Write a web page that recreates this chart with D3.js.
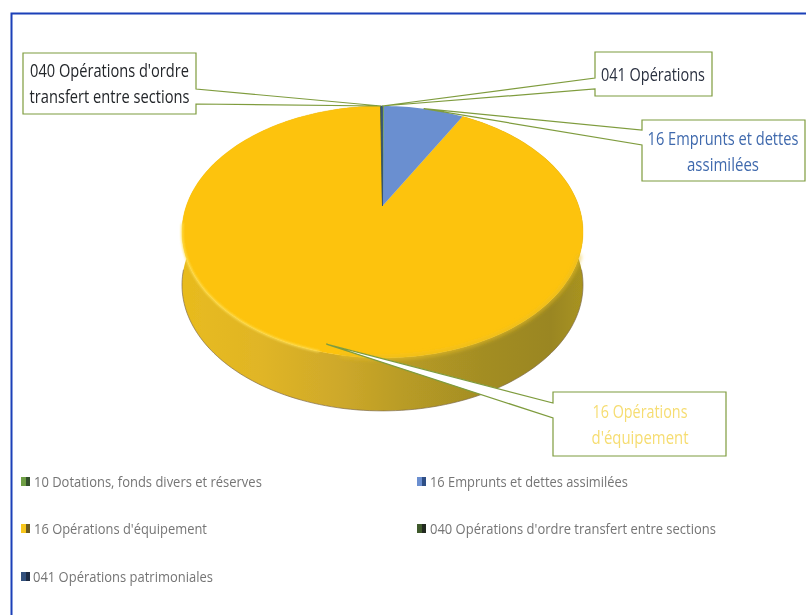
<!DOCTYPE html>
<html><head><meta charset="utf-8">
<script src="https://cdn.jsdelivr.net/npm/d3@7"></script>
<style>html,body{margin:0;padding:0;background:#fff}svg{display:block}</style></head>
<body><svg id="c" width="806" height="615"></svg>
<script>
const categories = ["10 Dotations, fonds divers et réserves","16 Emprunts et dettes assimilées","16 Opérations d'équipement","040 Opérations d'ordre transfert entre sections","041 Opérations patrimoniales"];
const values = [0.1, 7.9, 91.8, 0.1, 0.1];
const topColors = ["#6f9f45","#6b8fd0","#fdc30d","#3f5a2c","#33507c"];
const swatchDark = ["#33502c","#2f4f86","#6b5a20","#222a20","#1d2b44"];
const calloutLines = [null,["16 Emprunts et dettes","assimilées"],["16 Opérations","d'équipement"],["040 Opérations d'ordre","transfert entre sections"],["041 Opérations"]];
const calloutColors = [null,"#3f69ad","#f6dd72","#23262a","#2a3040"];

// layout (separate from the data)
const W=806,H=615, cx=382.5, cy=206, depth=53;
const P={a:120.6,b:196.2,k:0.206};
const boxes={1:{x:642,y:120,w:163,h:61,p:[[642,130],[642,145]],base:[145,171],cxT:723,tw:[151,72]},
             2:{x:553,y:392,w:173,h:64,p:[[553,403],[553,418]],base:[418,444],cxT:640,tw:[95,97]},
             3:{x:23,y:53,w:173,h:61,p:[[196,89],[196,104]],base:[77,103],cxT:109.5,tw:[159,160]},
             4:{x:595,y:52,w:117,h:44,p:[[595,78],[595,89]],base:[81],cxT:653,tw:[104]}};
const legendPos=[{x:21,y:487,tx:34,tw:228},{x:417,y:487,tx:430,tw:198},{x:21,y:534,tx:34,tw:173},{x:417,y:534,tx:430,tw:286},{x:21,y:582,tx:33,tw:180}];
const font="'Open Sans',Lato,sans-serif";

const svg=d3.select("#c");
const defs=svg.append("defs");
const grad=defs.append("linearGradient").attr("id","side").attr("gradientUnits","userSpaceOnUse")
  .attr("x1",182).attr("x2",583).attr("y1",0).attr("y2",0);
[[0,"#e8bb1e"],[.2,"#e0b526"],[.4,"#cda82a"],[.55,"#b99c25"],[.75,"#a38d24"],[.92,"#9a8622"],[1,"#a8931f"]]
 .forEach(s=>grad.append("stop").attr("offset",s[0]).attr("stop-color",s[1]));
function blurF(id,sd){const f=defs.append("filter").attr("id",id).attr("x","-5%").attr("y","-20%").attr("width","110%").attr("height","140%");
  f.append("feGaussianBlur").attr("stdDeviation",sd);}
blurF("soft",0.45); blurF("rim",1); blurF("rimWide",2.2); blurF("txt",0.3);

// frame
svg.append("path").attr("d",`M11.5,${H} L11.5,13.5 L${W},13.5`).attr("fill","none").attr("stroke","#1a3fb8").attr("stroke-width",2).attr("filter","url(#soft)");

const pie=d3.pie().sort(null).value(d=>d)(values);
const deg=d=>d*Math.PI/180;
function project(a,r=1,dz=0){ // a clockwise from top
  const x=r*Math.sin(a), y=r*Math.cos(a), w=1+P.k*y;
  return [cx+P.b*x/w, cy-P.a*y/w+dz];
}
const line=d3.line();
const g=svg.append("g").attr("filter","url(#soft)");
function arcPts(s,dz=0,n=240){const st=Math.max(2,Math.ceil((s.endAngle-s.startAngle)/(2*Math.PI)*n));
  return d3.range(st+1).map(i=>project(s.startAngle+(s.endAngle-s.startAngle)*i/st,1,dz));}
// walls
const wall=pie[2];
g.append("path").attr("d",line(arcPts(wall,0).concat(arcPts(wall,depth).reverse()))+"Z").attr("fill","url(#side)");
// thin dark lower edge of the wall
g.append("path").attr("d",line(arcPts({startAngle:deg(95),endAngle:deg(265)},depth))).attr("fill","none").attr("stroke","#7d6a4a").attr("stroke-width",.9).attr("opacity",.75);
// top faces, large ones first so that the thin ones stay visible
[2,1,0,3,4].forEach(i=>{
  const s=pie[i];
  g.append("path").attr("d",line([[cx,cy]].concat(arcPts(s,0)))+"Z").attr("fill",topColors[i])
   .attr("stroke",(i===1)?"none":topColors[i]).attr("stroke-width",i===2?.4:.7);
});
// bright rim along the front-left edge, soft blend on the front-right edge
g.append("path").attr("d",line(arcPts({startAngle:deg(195),endAngle:deg(262)},0))).attr("fill","none").attr("stroke","#ffe25c").attr("stroke-width",1.8).attr("filter","url(#rim)");
g.append("path").attr("d",line(arcPts({startAngle:deg(112),endAngle:deg(190)},0))).attr("fill","none").attr("stroke","#e8bd22").attr("stroke-width",3).attr("filter","url(#rimWide)");

// fits a real text element to a measured width by scaling it horizontally
function fit(sel,x,y,tw,anchor){
  const nat=sel.node().getComputedTextLength();
  sel.attr("text-anchor",anchor).attr("transform",`translate(${x},${y}) scale(${tw/nat},1)`);
}
// callouts
pie.forEach((s,i)=>{
  const b=boxes[i]; if(!b)return;
  const mid=(s.startAngle+s.endAngle)/2;
  const tip=project(mid,i===2?0.955:1);
  const c=svg.append("g");
  let poly;
  if(b.p[0][0]===b.x) poly=[[b.x,b.y],b.p[0],tip,b.p[1],[b.x,b.y+b.h],[b.x+b.w,b.y+b.h],[b.x+b.w,b.y]];
  else poly=[[b.x,b.y],[b.x+b.w,b.y],b.p[0],tip,b.p[1],[b.x+b.w,b.y+b.h],[b.x,b.y+b.h]];
  c.append("path").attr("d",line(poly)+"Z").attr("fill","#fff").attr("fill-opacity",i===2?1:0.0001)
    .attr("stroke","#7f9c3e").attr("stroke-width",1.2).attr("filter","url(#txt)");
  calloutLines[i].forEach((t,j)=>{
    const e=c.append("text").attr("font-family",font).attr("font-size",17.5).attr("fill",calloutColors[i]).attr("filter","url(#txt)").text(t);
    fit(e,b.cxT,b.base[j],b.tw[j],"middle");
  });
});

// legend
const leg=svg.append("g").selectAll("g").data(categories).join("g");
leg.each(function(d,i){
  const p=legendPos[i], e=d3.select(this);
  e.append("rect").attr("x",p.x).attr("y",p.y-10).attr("width",5).attr("height",9).attr("fill",i===2?"#f7c61c":topColors[i]);
  e.append("rect").attr("x",p.x+5).attr("y",p.y-10).attr("width",4).attr("height",9).attr("fill",swatchDark[i]);
  const t=e.append("text").attr("font-family",font).attr("font-size",15).attr("fill","#757575").attr("filter","url(#txt)").text(d);
  fit(t,p.tx,p.y,p.tw,"start");
});
</script></body></html>
